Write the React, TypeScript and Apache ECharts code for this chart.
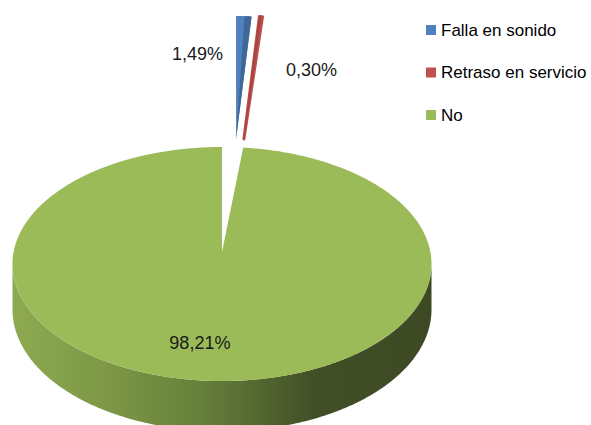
import React, { useEffect, useRef } from "react";
import * as echarts from "echarts";

// ---- data ----
const categories = ["Falla en sonido", "Retraso en servicio", "No"];
const values = [1.49, 0.3, 98.21];
const colors = ["#4F81BD", "#C0504D", "#9BBB59"];

// ---- layout constants (projection of the 3D pie) ----
const CX = 222;
const CY = 252;
const RX = 208.4;
const RY = 115.8;
const K = 0.1026; // perspective
const DEPTH = 45;
const ERX = 166; // exploded slices scale
const ERY = 123;
const EXPLODE_DY = -113;
const exploded = [true, true, false];
const FONT = '"Liberation Sans", Arial, sans-serif';

const total = values.reduce((a, b) => a + b, 0);
const starts: number[] = [];
{
  let acc = 0;
  for (const v of values) {
    starts.push((acc / total) * Math.PI * 2);
    acc += v;
  }
}

function topPt(theta: number, r: number) {
  const u = r * Math.sin(theta);
  const v = -r * Math.cos(theta);
  const s = 1 / (1 - K * v);
  return { x: CX + RX * u * s, y: CY + RY * v * s, s };
}

function fmt(v: number) {
  return v.toFixed(2).replace(".", ",") + "%";
}

function arcPts(a0: number, a1: number, f: (t: number) => number[]) {
  const pts: number[][] = [];
  const n = Math.max(2, Math.ceil((a1 - a0) / (0.5 * (Math.PI / 180))));
  for (let j = 0; j <= n; j++) pts.push(f(a0 + ((a1 - a0) * j) / n));
  return pts;
}

function darker(hex: string, f: number) {
  const n = parseInt(hex.slice(1), 16);
  const r = Math.round(((n >> 16) & 255) * f);
  const g = Math.round(((n >> 8) & 255) * f);
  const b = Math.round((n & 255) * f);
  return `rgb(${r},${g},${b})`;
}

function makeRender(i: number) {
  return function renderItem(_params: any, api: any) {
    const val = api.value(0) as number;
    const a0 = starts[i];
    const a1 = a0 + (val / total) * Math.PI * 2;
    const children: any[] = [];
    const mid = (a0 + a1) / 2;
    if (!exploded[i]) {
      // side wall
      const visA = Math.acos(-K);
      const visB = Math.PI * 2 - visA;
      const w0 = Math.max(a0, visA);
      const w1 = Math.min(a1, visB);
      if (w1 > w0) {
        const topArc = arcPts(w0, w1, (t) => {
          const p = topPt(t, 1);
          return [p.x, p.y];
        });
        const botArc = arcPts(w0, w1, (t) => {
          const p = topPt(t, 1);
          return [p.x, p.y + DEPTH * p.s];
        }).reverse();
        children.push({
          type: "polygon",
          shape: { points: topArc.concat(botArc) },
          style: {
            fill: new echarts.graphic.LinearGradient(
              12,
              0,
              432,
              0,
              [
                { offset: 0, color: "#8DAA51" },
                { offset: 0.2, color: "#7F9A47" },
                { offset: 0.45, color: "#66803B" },
                { offset: 0.62, color: "#4F612E" },
                { offset: 0.72, color: "#414F26" },
                { offset: 1, color: "#3D4923" },
              ],
              true
            ),
          },
        });
      }
      const face = [[CX, CY]].concat(
        arcPts(a0, a1, (t) => {
          const p = topPt(t, 1);
          return [p.x, p.y];
        })
      );
      children.push({
        type: "polygon",
        shape: { points: face },
        style: { fill: colors[i] },
      });
      const lp = topPt(mid, 0.72);
      children.push({
        type: "text",
        x: lp.x - 13,
        y: lp.y + 1,
        style: {
          text: fmt(val),
          font: `18px ${FONT}`,
          fill: "#1a1a1a",
          align: "center",
          verticalAlign: "middle",
          textAlign: "center",
          textVerticalAlign: "middle",
        },
      });
    } else {
      const tx = CX + 8 + 140 * Math.sin(mid) - 0.5;
      const ty = CY + EXPLODE_DY;
      const ep = (t: number) => [tx + ERX * Math.sin(t), ty - ERY * Math.cos(t)];
      const thin = a1 - a0 < 0.03;
      children.push({
        type: "polygon",
        shape: { points: [[tx, ty]].concat(arcPts(a0, a1, ep)) },
        style: thin
          ? { fill: colors[i], stroke: colors[i], lineWidth: 3, lineJoin: "round" }
          : { fill: colors[i] },
      });
      const d0 = a0 + (a1 - a0) * (thin ? 0.0 : 0.55);
      const d1 = a0 + (a1 - a0) * (thin ? 0.5 : 1);
      children.push({
        type: "polygon",
        shape: { points: [[tx, ty]].concat(arcPts(d0, d1, ep)) },
        style: thin
          ? { fill: darker(colors[i], 0.88), stroke: darker(colors[i], 0.88), lineWidth: 1.5 }
          : { fill: darker(colors[i], 0.8) },
      });
      const isLeft = Math.sin(mid) < 0.07;
      children.push({
        type: "text",
        x: isLeft ? tx - 38.5 : tx + 67.5,
        y: isLeft ? ty - 85 : ty - 69,
        style: {
          text: fmt(val),
          font: `18px ${FONT}`,
          fill: "#1a1a1a",
          align: "center",
          verticalAlign: "middle",
          textAlign: "center",
          textVerticalAlign: "middle",
        },
      });
    }
    return { type: "group", children };
  };
}

export default function App() {
  const ref = useRef<HTMLDivElement>(null);
  useEffect(() => {
    if (!ref.current) return;
    const chart = echarts.init(ref.current, undefined, { renderer: "svg" });
    const order = [2, 0, 1];
    chart.setOption({
      animation: false,
      backgroundColor: "#ffffff",
      legend: {
        orient: "vertical",
        left: 426,
        top: 20,
        padding: 0,
        itemWidth: 10,
        itemHeight: 10,
        itemGap: 22.5,
        icon: "rect",
        data: categories,
        selectedMode: false,
        textStyle: {
          fontFamily: FONT,
          fontSize: 17,
          lineHeight: 20,
          color: "#000000",
        },
      },
      series: order.map((i) => ({
        type: "custom",
        name: categories[i],
        coordinateSystem: "none",
        silent: true,
        itemStyle: { color: colors[i] },
        renderItem: makeRender(i),
        data: [[values[i]]],
      })),
    });
    return () => chart.dispose();
  }, []);
  return (
    <div
      ref={ref}
      style={{ position: "fixed", left: 0, top: 0, width: 591, height: 425 }}
    />
  );
}
